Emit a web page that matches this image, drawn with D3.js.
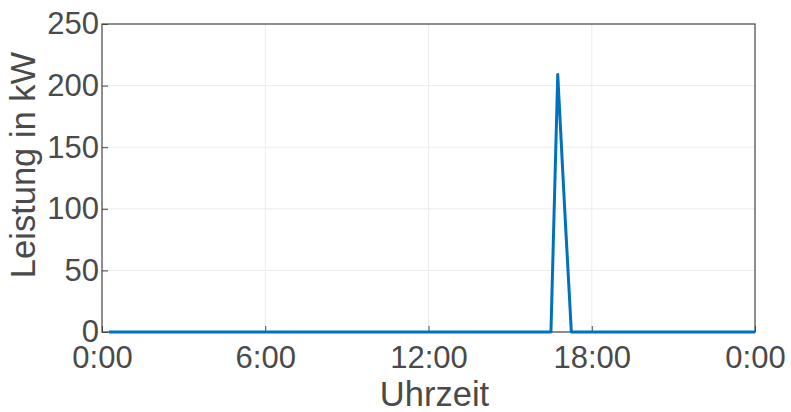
<!DOCTYPE html>
<html>
<head>
<meta charset="utf-8">
<script src="https://cdn.jsdelivr.net/npm/d3@7"></script>
<style>
  html, body { margin: 0; padding: 0; background: #fff; }
  svg { display: block; }
  text { font-family: "Liberation Sans", Arial, Helvetica, sans-serif; fill: #4a4a4a; }
</style>
</head>
<body>
<svg id="chart" width="791" height="412"></svg>
<script>
// Data (hours of day, power in kW) — breakpoints
const timesH = [0.25, 16.5, 16.75, 17.0, 17.25, 24];
const powerKW = [0, 0, 209, 102, 0, 0];
const xTickVals = [0, 6, 12, 18, 24];
const xTickLabels = ["0:00", "6:00", "12:00", "18:00", "0:00"];
const yTickVals = [0, 50, 100, 150, 200, 250];

const W = 791, H = 412;
const m = { left: 102, right: 36, top: 24, bottom: 80 };
const iw = W - m.left - m.right, ih = H - m.top - m.bottom;

const svg = d3.select("#chart");
const g = svg.append("g").attr("transform", `translate(${m.left},${m.top})`);

const x = d3.scaleLinear().domain([0, 24]).range([0, iw]);
const y = d3.scaleLinear().domain([0, 250]).range([ih, 0]);

// grid
g.append("g").selectAll("line").data(xTickVals.slice(1, -1)).join("line")
  .attr("x1", d => x(d)).attr("x2", d => x(d)).attr("y1", 0).attr("y2", ih)
  .attr("stroke", "#ececec").attr("stroke-width", 1);
g.append("g").selectAll("line").data(yTickVals.slice(1, -1)).join("line")
  .attr("y1", d => y(d)).attr("y2", d => y(d)).attr("x1", 0).attr("x2", iw)
  .attr("stroke", "#ececec").attr("stroke-width", 1);

// box
g.append("rect").attr("x", 0).attr("y", 0).attr("width", iw).attr("height", ih)
  .attr("fill", "none").attr("stroke", "#444").attr("stroke-width", 1.2);

// axes
const xAxis = d3.axisBottom(x).tickValues(xTickVals)
  .tickFormat((d, i) => xTickLabels[i]).tickSizeInner(-6).tickSizeOuter(0).tickPadding(14);
const gx = g.append("g").attr("transform", `translate(0,${ih})`).call(xAxis);
gx.select(".domain").remove();
gx.selectAll(".tick line").attr("stroke", "#444");
gx.selectAll(".tick text").attr("font-size", 31).attr("fill", "#4a4a4a")
  .attr("font-family", '"Liberation Sans", Arial, sans-serif');

const yAxis = d3.axisLeft(y).tickValues(yTickVals)
  .tickSizeInner(-6).tickSizeOuter(0).tickPadding(3);
const gy = g.append("g").call(yAxis);
gy.select(".domain").remove();
gy.selectAll(".tick line").attr("stroke", "#444");
gy.selectAll(".tick text").attr("font-size", 31).attr("fill", "#4a4a4a")
  .attr("font-family", '"Liberation Sans", Arial, sans-serif');

// line
const pts = timesH.map((t, i) => [t, powerKW[i]]);
g.append("path").datum(pts)
  .attr("d", d3.line().x(d => x(d[0])).y(d => y(d[1])))
  .attr("fill", "none").attr("stroke", "#0072BD").attr("stroke-width", 3)
  .attr("stroke-linejoin", "round");

// labels
svg.append("text").attr("x", 434.5).attr("y", 406)
  .attr("text-anchor", "middle").attr("font-size", 34.5).text("Uhrzeit");
svg.append("text").attr("transform", `translate(35,165) rotate(-90)`)
  .attr("text-anchor", "middle").attr("font-size", 34.5).text("Leistung in kW");
</script>
</body>
</html>
